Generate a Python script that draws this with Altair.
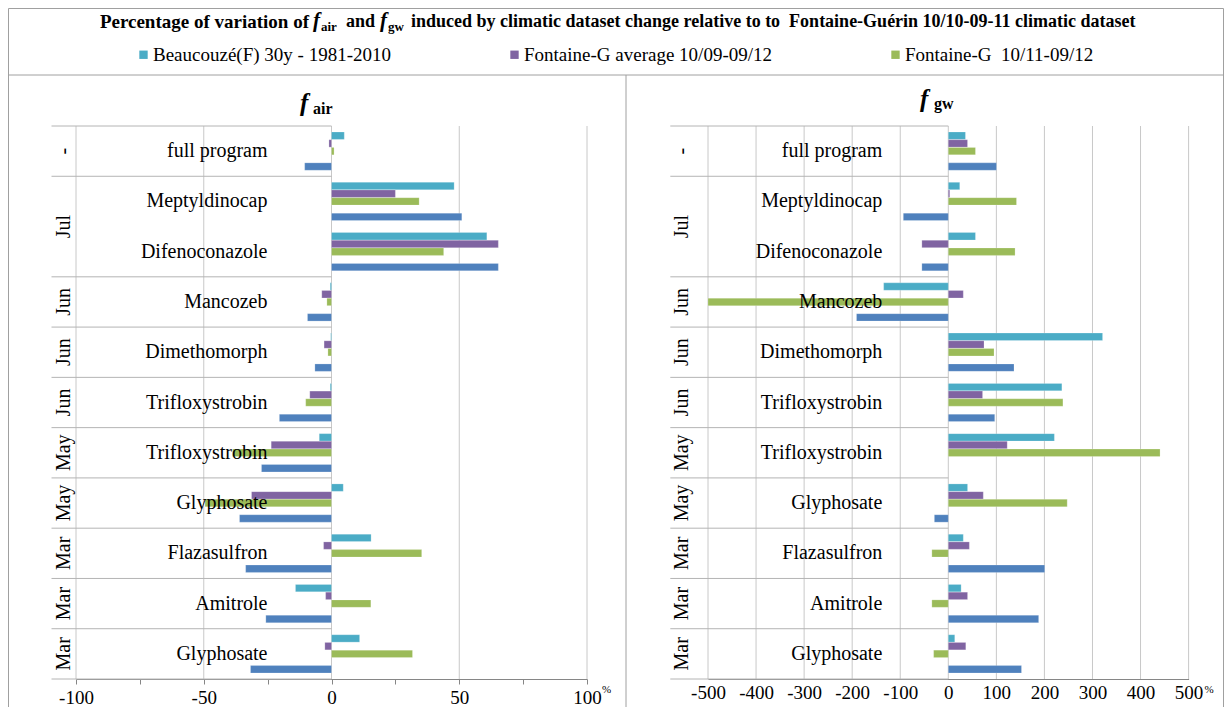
import altair as alt
import pandas as pd

# ---------------- data ----------------
categories = ["full program", "Meptyldinocap", "Difenoconazole", "Mancozeb", "Dimethomorph",
              "Trifloxystrobin", "Trifloxystrobin", "Glyphosate", "Flazasulfron", "Amitrole", "Glyphosate"]
months = ["-", "Jul", "Jul", "Jun", "Jun", "Jun", "May", "May", "Mar", "Mar", "Mar"]
series = ["Beaucouzé(F) 30y - 1981-2010", "Fontaine-G average 10/09-09/12",
          "Fontaine-G\u00a0 10/11-09/12", "Fontaine-G other"]
colors = ["#4BACC6", "#8064A2", "#9BBB59", "#4F81BD"]

fair_beaucouze = [5, 48, 60.8, -0.5, -0.3, -0.5, -4.8, 4.6, 15.5, -14.1, 11]
fair_average = [-1, 25, 65.3, -3.8, -2.9, -8.5, -23.6, -31.3, -3.1, -2.3, -2.6]
fair_1112 = [1, 34.3, 43.9, -1.8, -1.4, -10.1, -38.7, -49.5, 35.3, 15.4, 31.7]
fair_other = [-10.5, 51, 65.3, -9.4, -6.5, -20.4, -27.4, -36, -33.6, -25.7, -31.7]

fgw_beaucouze = [35.7, 23.8, 56.5, -134.5, 321, 236.3, 220.7, 40.1, 31.2, 26.7, 13.4]
fgw_average = [40, 3, -55, 31.2, 74.3, 71.3, 122.6, 72.8, 43.8, 40.1, 36.4]
fgw_1112 = [56.5, 141.9, 138.9, -500, 95.1, 238.5, 440.6, 247.4, -34.2, -34.2, -30.5]
fgw_other = [100.3, -93.6, -55, -191, 136.7, 96.6, None, -29, 200.6, 188, 152.3]

fair_ticks = [-100, -75, -50, -25, 0, 25, 50, 75, 100]
fair_grid = [-100, -50, 0, 50, 100]
fgw_ticks = [-500, -400, -300, -200, -100, 0, 100, 200, 300, 400, 500]

# ---------------- tables ----------------
ids = [f"{i:02d} {c}" for i, c in enumerate(categories)]
cat_df = pd.DataFrame({"id": ids, "name": categories, "month": months})

def long_table(cols):
    rows = []
    for s, vals in zip(series, cols):
        for i, v in zip(ids, vals):
            if v is not None:
                rows.append({"id": i, "series": s, "value": v})
    return pd.DataFrame(rows)

fair_df = long_table([fair_beaucouze, fair_average, fair_1112, fair_other])
fgw_df = long_table([fgw_beaucouze, fgw_average, fgw_1112, fgw_other])

group_top_idx = [0, 1, 3, 4, 5, 6, 7, 8, 9, 10]
tops_df = cat_df.iloc[group_top_idx]
bottom_df = cat_df.iloc[[10]]
single_month_df = cat_df.iloc[[0, 3, 4, 5, 6, 7, 8, 9, 10]]
jul_df = cat_df.iloc[[1]]

SERIF = "Liberation Serif"
GRID = "#c8c8c8"
SEP = "#b4b4b4"
FS = 19
NFS = 20

yscale = alt.Scale(domain=ids, range=[118, 671], paddingInner=0, paddingOuter=0)
yoff_scale = alt.Scale(domain=series[:3] + ["_gap"] + series[3:], paddingInner=0.04, paddingOuter=0.78)
color_scale = alt.Scale(domain=series, range=colors)

one = pd.DataFrame({"k": [0]})


def panel(df, domain, rng, ticks, grid, tick_size, label_expr, name_dx, month_dy, sep_off, pct_dx):
    xs = alt.Scale(domain=domain, range=rng, nice=False, zero=False)
    axis_def = alt.Axis(orient="bottom", values=ticks, grid=False, title=None,
                        labelExpr=label_expr, labelFont=SERIF, labelFontSize=FS,
                        labelColor="black", labelPadding=4, tickSize=tick_size,
                        tickColor="#868686", domainColor="#868686", labelFlush=False)
    X0 = alt.X(datum=0, type="quantitative", scale=xs, axis=axis_def)

    grid_layer = alt.Chart(pd.DataFrame({"v": grid})).mark_rule(color=GRID, strokeWidth=1).encode(
        x=alt.X("v:Q", scale=xs, axis=axis_def), y=alt.value(118), y2=alt.value(671))

    sep_top = alt.Chart(tops_df).mark_rule(color=SEP, strokeWidth=1, xOffset=sep_off).encode(
        y=alt.Y("id:N", scale=yscale, axis=None, bandPosition=0), x=X0, x2=alt.X2(datum=0))
    sep_bot = alt.Chart(bottom_df).mark_rule(color=SEP, strokeWidth=1, xOffset=sep_off).encode(
        y=alt.Y("id:N", scale=yscale, axis=None, bandPosition=1), x=X0, x2=alt.X2(datum=0))

    bars = alt.Chart(df).mark_bar(stroke="white", strokeOpacity=0.35, strokeWidth=0.6).encode(
        x=alt.X("value:Q", scale=xs, axis=axis_def),
        y=alt.Y("id:N", scale=yscale, axis=None),
        yOffset=alt.YOffset("series:N", scale=yoff_scale),
        color=alt.Color("series:N", scale=color_scale,
                        legend=alt.Legend(orient="none", legendX=126, legendY=37,
                                          direction="horizontal", title=None, values=series[:3],
                                          symbolType="square", symbolSize=70, symbolStrokeWidth=0,
                                          labelFont=SERIF, labelFontSize=FS, labelColor="black",
                                          labelLimit=0, columnPadding=114, labelOffset=0, padding=0)),
    )

    names = alt.Chart(cat_df).mark_text(align="right", baseline="middle", dx=name_dx,
                                        font=SERIF, fontSize=NFS, color="black").encode(
        y=alt.Y("id:N", scale=yscale, axis=None), x=X0, text="name:N")
    m1 = alt.Chart(single_month_df).mark_text(align="center", baseline="middle", dy=month_dy,
                                              angle=270, font=SERIF, fontSize=NFS, color="black").encode(
        y=alt.Y("id:N", scale=yscale, axis=None), x=X0, text="month:N")
    m2 = alt.Chart(jul_df).mark_text(align="center", baseline="middle", dy=month_dy,
                                     angle=270, font=SERIF, fontSize=NFS, color="black").encode(
        y=alt.Y("id:N", scale=yscale, axis=None, bandPosition=1), x=X0, text="month:N")
    pct = alt.Chart(one).mark_text(align="left", baseline="middle", dx=pct_dx,
                                   font=SERIF, fontSize=11, color="black").encode(
        x=alt.X(datum=domain[1], type="quantitative", scale=xs, axis=axis_def),
        y=alt.value(682), text=alt.value("%"))
    return alt.layer(grid_layer, sep_top, sep_bot, bars, names, m1, m2, pct)


left = panel(fair_df, [-100, 100], [68, 579], fair_ticks, fair_grid, 5,
             "datum.value % 50 === 0 ? '' + datum.value : ''", -64, -268, -280, 15)
right = panel(fgw_df, [-500, 500], [700, 1180.6], fgw_ticks, fgw_ticks, 0,
              "'' + datum.value", -66, -266, -278, 16)


def txt(s, x, y, size, bold=True, italic=False, align="left"):
    return alt.Chart(one).mark_text(align=align, baseline="middle", font=SERIF, fontSize=size,
                                    fontWeight="bold" if bold else "normal",
                                    fontStyle="italic" if italic else "normal", color="black").encode(
        x=alt.value(x), y=alt.value(y), text=alt.value(s))


frame = alt.Chart(pd.DataFrame({"x": [0.5, 1215.5, 0.5, 618, 0.5], "x2": [1215.5, 1215.5, 1215.5, 618, 0.5],
                                "y": [0.5, 0.5, 67, 67, 0.5], "y2": [0.5, 699, 67, 699, 699]})).mark_rule(
    color="#a0a0a0", strokeWidth=1).encode(
    x=alt.X("x:Q", scale=None), x2="x2:Q", y=alt.Y("y:Q", scale=None), y2="y2:Q")

title_parts = [
    txt("Percentage of variation of", 301, 14, 19, align="right"),
    txt("f", 305, 13, 21, italic=True),
    txt("air", 313, 19, 13),
    txt("and", 338, 14, 18),
    txt("f", 372, 13, 21, italic=True),
    txt("gw", 380, 19, 13),
    txt("induced by climatic dataset change relative to to\u00a0 Fontaine-Guérin 10/10-09-11 climatic dataset",
        403, 14, 18),
    txt("f", 292, 95, 25, italic=True),
    txt("air", 305, 101, 16),
    txt("f", 912, 91, 25, italic=True),
    txt("gw", 926, 96, 16),
]

chart = alt.layer(frame, left, right, *title_parts).resolve_scale(x="independent").properties(
    width=1216, height=671, autosize="none",
    padding={"left": 0, "right": 0, "top": 0, "bottom": 28},
).configure_view(stroke=None)

chart.save("out.html", embed_options={"renderer": "svg", "actions": False})
